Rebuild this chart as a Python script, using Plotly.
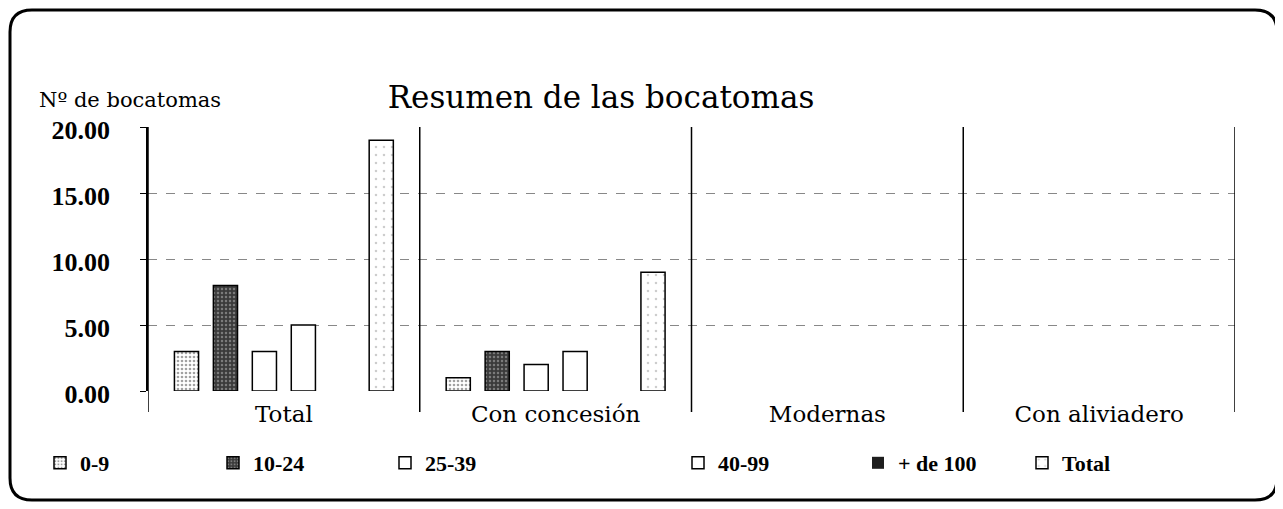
import plotly.graph_objects as go

# datos
grupos = ["Total", "Con concesión", "Modernas", "Con aliviadero"]
v_0_9 = [3, 1, 0, 0]
v_10_24 = [8, 3, 0, 0]
v_25_39 = [3, 2, 0, 0]
v_40_99 = [5, 3, 0, 0]
v_100 = [0, 0, 0, 0]
v_total = [19, 9, 0, 0]

W, H = 1283, 509
OFF = 8  # margen del body en la pagina
L, R, T, B = 140, 56, 119, 126
pw, ph = W - L - R, H - T - B

# convierte pixeles de pantalla a coordenadas paper
def px(x):
    return (x - OFF - L) / pw

def py(y):
    return (H - B - (y - OFF)) / ph

serif = "Liberation Serif"
ancha = "DejaVu Serif"
f_ley = dict(family=serif, size=22, color="black", weight="bold")

fig = go.Figure()

series = [
    ("0-9", v_0_9, dict(color="white", pattern=dict(shape=".", fgcolor="#444", size=4, solidity=0.35))),
    ("10-24", v_10_24, dict(color="#3a3a3a", pattern=dict(shape=".", fgcolor="#bbbbbb", size=4, solidity=0.3))),
    ("25-39", v_25_39, dict(color="white")),
    ("40-99", v_40_99, dict(color="white")),
    ("+ de 100", v_100, dict(color="#1e1e1e")),
    ("Total", v_total, dict(color="white", pattern=dict(shape=".", fgcolor="#999", size=8, solidity=0.08))),
]
# posicion horizontal (px) de cada leyenda
leyenda_x = [40, 213, 385, 678, 858, 1022]

for i, (nombre, vals, mk) in enumerate(series):
    ley = "legend" if i == 0 else f"legend{i + 1}"
    fig.add_trace(go.Bar(
        x=grupos, y=vals, name=nombre, legend=ley,
        marker=dict(line=dict(color="black", width=[1.5 if v > 0 else 0 for v in vals]), **mk),
    ))
    fig.update_layout({ley: dict(x=px(leyenda_x[i]), y=py(463), xanchor="left", yanchor="middle",
                                 orientation="h", font=f_ley, bgcolor="rgba(0,0,0,0)")})

# separadores verticales entre grupos
for i in range(len(grupos) + 1):
    fig.add_shape(type="line", xref="x", yref="paper",
                  x0=i - 0.5, x1=i - 0.5, y0=py(412), y1=1.0,
                  line=dict(color="black", width=1.5))

# marco redondeado
x0, x1, y0, y1 = px(10), px(1277), py(500), py(10)
rx, ry = 22 / pw, 22 / ph
path = (f"M {x0+rx},{y1} L {x1-rx},{y1} Q {x1},{y1} {x1},{y1-ry} "
        f"L {x1},{y0+ry} Q {x1},{y0} {x1-rx},{y0} L {x0+rx},{y0} "
        f"Q {x0},{y0} {x0},{y0+ry} L {x0},{y1-ry} Q {x0},{y1} {x0+rx},{y1} Z")
fig.add_shape(type="path", xref="paper", yref="paper", path=path,
              line=dict(color="black", width=3))

fig.add_annotation(text="Nº de bocatomas", xref="paper", yref="paper",
                   x=px(37), y=py(100), xanchor="left", yanchor="middle",
                   showarrow=False, font=dict(family=ancha, size=21, color="black"))

fig.update_layout(
    width=W, height=H,
    margin=dict(l=L, r=R, t=T, b=B, autoexpand=False),
    paper_bgcolor="white", plot_bgcolor="white",
    font=dict(family=serif, size=19, color="black"),
    title=dict(text="Resumen de las bocatomas", x=(601 - OFF) / W, xanchor="center",
               y=1 - (97 - OFF) / H, yanchor="middle",
               font=dict(family=ancha, size=31, color="black")),
    barmode="group", bargap=0.14, bargroupgap=0.38,
    showlegend=True,
)

fig.update_xaxes(range=[-0.5, 3.5], showline=False, showgrid=False, ticks="",
                 tickfont=dict(family=ancha, size=23, color="black"), ticklabelstandoff=7)
fig.update_yaxes(range=[0, 20], dtick=5, tickformat=".2f", showline=True,
                 linecolor="black", linewidth=1.5, ticks="outside", ticklen=6,
                 tickcolor="black", showgrid=True, gridcolor="#888",
                 griddash="dash", gridwidth=1, zeroline=False,
                 tickfont=dict(family=serif, size=26, color="black", weight="bold"),
                 ticklabelstandoff=25, ticklabelshift=3)

fig.write_html("out.html")
